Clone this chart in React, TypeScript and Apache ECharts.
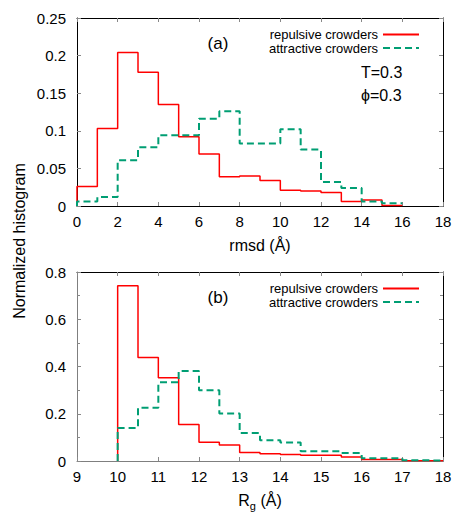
import React, { useEffect, useRef } from "react";
import * as echarts from "echarts";

// ---- data ----
const rmsdEdges = [0, 1, 2, 3, 4, 5, 6, 7, 8, 9, 10, 11, 12, 13, 14, 15, 16];
const rmsdRepulsive = [0.026, 0.103, 0.204, 0.178, 0.135, 0.092, 0.069, 0.039, 0.040, 0.034, 0.021, 0.020, 0.018, 0.006, 0.008, 0.0008];
const rmsdAttractive = [0.006, 0.012, 0.061, 0.078, 0.094, 0.094, 0.116, 0.126, 0.083, 0.083, 0.102, 0.075, 0.032, 0.024, 0.006, 0.0035];

const rgEdges = [10, 10.5, 11, 11.5, 12, 12.5, 13, 13.5, 14, 14.5, 15, 15.5, 16, 16.5, 17, 17.5, 18];
const rgRepulsive = [0.742, 0.438, 0.352, 0.155, 0.079, 0.068, 0.036, 0.031, 0.027, 0.024, 0.024, 0.017, 0.006, 0.006, 0.0015, 0.0008];
const rgAttractive = [0.140, 0.225, 0.333, 0.381, 0.300, 0.201, 0.119, 0.088, 0.078, 0.041, 0.041, 0.034, 0.0115, 0.0115, 0.003, 0.002];

const seriesNames = ["repulsive crowders", "attractive crowders"];
const FONT = '"Liberation Sans", Arial, Helvetica, sans-serif';
const RED = "#ff0000";
const GREEN = "#009e73";

function steps(edges: number[], vals: number[]) {
  const pts: number[][] = [[edges[0], 0]];
  vals.forEach((v, i) => pts.push([edges[i], v]));
  pts.push([edges[vals.length], vals[vals.length - 1]]);
  return pts;
}

function xAxes(grid: number, min: number, max: number, interval: number, name: any, lineColor: string) {
  const common = {
    type: "value",
    gridIndex: grid,
    min,
    max,
    interval,
    splitLine: { show: false },
    axisTick: { show: true, inside: true, length: 4, lineStyle: { color: "#888", width: 1 } },
  };
  return [
    {
      ...common,
      position: "bottom",
      axisLine: { show: true, onZero: false, lineStyle: { color: lineColor, width: 1 } },
      axisLabel: { show: true, margin: 8, fontSize: 15, color: "#000", fontFamily: FONT },
      name,
      nameLocation: "middle",
      nameGap: 39,
      nameTextStyle: {
        fontSize: 16,
        color: "#000",
        fontFamily: FONT,
        verticalAlign: "middle",
        rich: {
          r: { fontSize: 16, fontFamily: FONT, color: "#000", lineHeight: 22 },
          s: { fontSize: 11, fontFamily: FONT, color: "#000", lineHeight: 11, verticalAlign: "bottom" },
        },
      },
    },
    {
      ...common,
      position: "top",
      axisLine: { show: true, onZero: false, lineStyle: { color: "#000", width: 1 } },
      axisLabel: { show: false },
    },
  ];
}

function yAxes(grid: number, min: number, max: number, interval: number, minor: boolean, lineColor: string) {
  const common = {
    type: "value",
    gridIndex: grid,
    min,
    max,
    interval,
    splitLine: { show: false },
    axisTick: { show: true, inside: true, length: 4, lineStyle: { color: "#888", width: 1 } },
    minorTick: { show: minor, splitNumber: 2, length: 3, lineStyle: { color: "#888", width: 1 } },
    minorSplitLine: { show: false },
  };
  return [
    {
      ...common,
      position: "left",
      axisLine: { show: true, onZero: false, lineStyle: { color: lineColor, width: 1 } },
      axisLabel: { show: true, margin: 11, fontSize: 15, color: "#000", fontFamily: FONT },
    },
    {
      ...common,
      position: "right",
      axisLine: { show: true, onZero: false, lineStyle: { color: "#000", width: 1 } },
      axisLabel: { show: false },
    },
  ];
}

function legend(top: number) {
  return {
    data: seriesNames,
    orient: "vertical",
    align: "right",
    right: 46,
    top,
    itemWidth: 36,
    itemHeight: 12,
    itemGap: 0.5,
    selectedMode: false,
    itemStyle: { opacity: 0 },
    textStyle: { fontSize: 13, color: "#000", fontFamily: FONT, lineHeight: 12 },
  };
}

function lineSeries(name: string, data: number[][], xi: number, yi: number, dashed: boolean) {
  return {
    type: "line",
    name,
    data,
    xAxisIndex: xi,
    yAxisIndex: yi,
    step: "end",
    symbol: "none",
    lineStyle: dashed
      ? { color: GREEN, width: 2, type: [7, 4] }
      : { color: RED, width: 1.5, type: "solid" },
    itemStyle: { color: dashed ? GREEN : RED },
    z: dashed ? 3 : 2,
  };
}

function text(str: string, x: number, y: number, align: string, size: number, rotation = 0) {
  return {
    type: "text",
    x,
    y,
    rotation,
    style: {
      text: str,
      fontSize: size,
      fontFamily: FONT,
      fill: "#000",
      align,
      verticalAlign: "middle",
    },
  };
}

export default function App() {
  const ref = useRef<HTMLDivElement>(null);
  useEffect(() => {
    document.body.style.margin = "0";
    const chart = echarts.init(ref.current!, null, { renderer: "svg" });
    chart.setOption({
      animation: false,
      backgroundColor: "#fff",
      grid: [
        { left: 77, top: 18, width: 366, height: 188 },
        { left: 77, top: 272, width: 366, height: 189 },
      ],
      xAxis: [
        ...xAxes(0, 0, 18, 2, "rmsd (Å)", "#000"),
        ...xAxes(1, 9, 18, 1, "{r|R}{s|g}{r| (Å)}", "#7f7f7f"),
      ],
      yAxis: [
        ...yAxes(0, 0, 0.25, 0.05, false, "#000"),
        ...yAxes(1, 0, 0.8, 0.2, true, "#7f7f7f"),
      ],
      legend: [legend(23), legend(277)],
      series: [
        lineSeries(seriesNames[0], steps(rmsdEdges, rmsdRepulsive), 0, 0, false),
        lineSeries(seriesNames[1], steps(rmsdEdges, rmsdAttractive), 0, 0, true),
        lineSeries(seriesNames[0], steps(rgEdges, rgRepulsive), 2, 2, false),
        lineSeries(seriesNames[1], steps(rgEdges, rgAttractive), 2, 2, true),
      ],
      graphic: [
        text("(a)", 218, 43, "center", 17),
        text("T=0.3", 361, 72, "left", 16),
        text("ϕ=0.3", 361, 95, "left", 16),
        text("(b)", 218, 297, "center", 17),
        text("Normalized histogram", 19, 241, "center", 16, Math.PI / 2),
      ],
    });
    return () => chart.dispose();
  }, []);
  return <div ref={ref} style={{ width: 471, height: 527 }} />;
}
